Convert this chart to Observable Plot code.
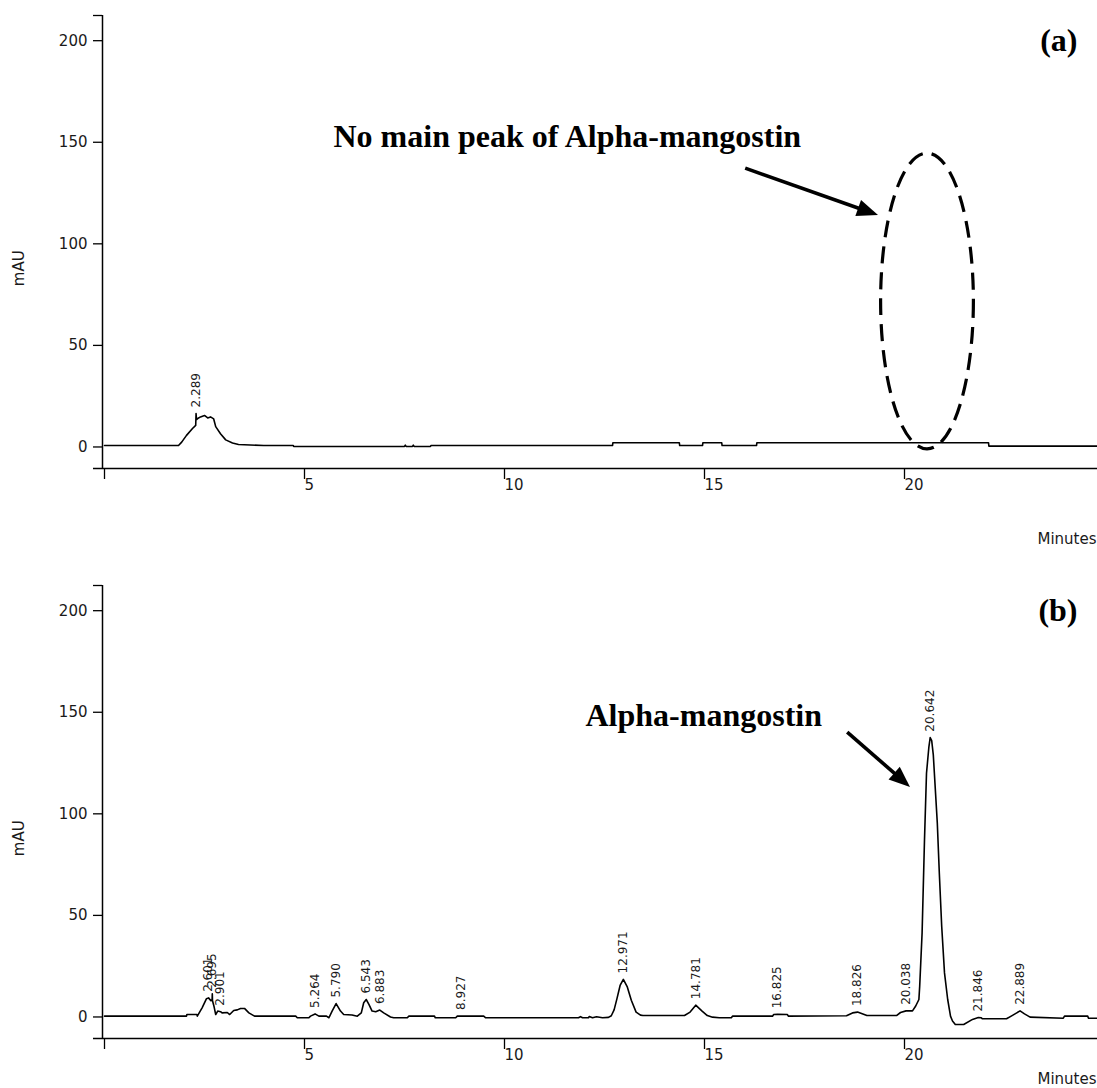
<!DOCTYPE html>
<html>
<head>
<meta charset="utf-8">
<script src="https://cdn.jsdelivr.net/npm/d3@7"></script>
<script src="https://cdn.jsdelivr.net/npm/@observablehq/plot@0.6"></script>
<style>
  body { margin: 0; background: #fff; }
  #chart svg { display: block; }
</style>
</head>
<body>
<div id="chart"></div>
<script>
// HPLC chromatograms: retention time (minutes) vs absorbance (mAU)

// (a) sample without the alpha-mangostin peak
const timeA = [0, 1.85, 1.93, 2.05, 2.20, 2.28, 2.289, 2.30, 2.33, 2.40,
  2.50, 2.58, 2.65, 2.73, 2.78, 2.90, 3.03, 3.20, 3.35, 3.98,
  4.72, 4.73, 7.50, 7.52, 7.54, 7.70, 7.72, 7.74, 8.15, 8.16,
  12.70, 12.71, 14.37, 14.38, 14.95, 14.96, 15.43, 15.44, 16.30, 16.31,
  22.10, 22.11, 24.825];
const mauA = [0.7, 0.7, 2.4, 5.7, 9.1, 10.6, 16.5, 13.5, 14.0, 14.8,
  15.5, 14.3, 14.8, 13.8, 10.0, 6.5, 3.5, 2.0, 1.2, 0.7,
  0.7, 0.25, 0.25, 0.9, 0.25, 0.25, 0.9, 0.25, 0.25, 0.7,
  0.7, 2.1, 2.1, 0.7, 0.7, 2.1, 2.1, 0.7, 0.7, 2.1,
  2.1, 0.4, 0.4];
const peaksA = [2.289];

// (b) sample with the alpha-mangostin peak at 20.642 min
const timeB = [0, 2.05, 2.06, 2.31, 2.32, 2.44, 2.55, 2.601, 2.66, 2.69,
  2.695, 2.70, 2.74, 2.78, 2.83, 2.901, 2.94, 3.07, 3.13, 3.23,
  3.32, 3.40, 3.50, 3.61, 3.75, 4.78, 4.82, 5.11, 5.15, 5.264,
  5.36, 5.55, 5.61, 5.69, 5.790, 5.90, 5.98, 6.19, 6.32, 6.42,
  6.48, 6.543, 6.61, 6.69, 6.78, 6.883, 6.98, 7.15, 7.23, 7.57,
  7.61, 8.25, 8.27, 8.78, 8.82, 8.927, 9.48, 9.53, 11.85, 11.90,
  11.95, 12.10, 12.12, 12.20, 12.30, 12.45, 12.60, 12.67, 12.74, 12.81,
  12.89, 12.971, 13.07, 13.17, 13.29, 13.40, 13.46, 14.50, 14.64, 14.781,
  14.94, 15.07, 15.20, 15.37, 15.67, 15.70, 16.70, 16.73, 16.825, 17.07,
  17.10, 18.55, 18.70, 18.826, 19.06, 19.80, 19.90, 20.038, 20.20, 20.28,
  20.36, 20.38, 20.44, 20.50, 20.55, 20.61, 20.642, 20.68, 20.72, 20.82,
  20.87, 20.93, 21.00, 21.08, 21.15, 21.20, 21.27, 21.48, 21.70, 21.846,
  21.92, 21.95, 22.55, 22.70, 22.889, 23.00, 23.14, 23.97, 24.00, 24.58,
  24.60, 24.825];
const mauB = [0.4, 0.4, 1.2, 1.2, 0.4, 4.5, 9.0, 9.4, 8.0, 8.4,
  11.4, 8.0, 5.0, 1.2, 2.9, 2.6, 2.0, 2.2, 1.2, 3.2,
  3.5, 4.2, 4.2, 2.0, 0.4, 0.4, -0.4, -0.4, 0.4, 1.5,
  0.4, 0.4, -0.4, 2.9, 6.6, 2.9, 1.2, 1.0, 0.4, 2.0,
  7.0, 8.6, 6.2, 2.9, 2.6, 3.4, 2.0, 0.0, -0.4, -0.4,
  0.4, 0.4, -0.4, -0.4, 0.4, 0.5, 0.4, -0.4, -0.4, 0.2,
  -0.4, -0.4, 0.2, -0.4, 0.1, -0.4, -0.2, 0.6, 3.5, 8.9,
  15.5, 18.5, 14.8, 8.2, 2.4, 0.9, 0.7, 0.7, 2.4, 5.8,
  2.9, 0.7, -0.1, -0.4, -0.4, 0.4, 0.4, 1.2, 1.3, 1.2,
  0.4, 0.6, 2.0, 2.4, 0.7, 0.7, 2.2, 3.0, 3.0, 5.4,
  8.6, 15.2, 41.4, 87.3, 120, 133, 137.5, 136, 129, 95.5,
  71, 44.7, 21.7, 8.6, 0.4, -2.0, -3.7, -3.7, -1.2, -0.3,
  -0.4, -0.9, -0.9, 0.8, 3.0, 1.5, -0.1, -0.6, 0.4, 0.4,
  -0.6, -0.6];
const peaksB = [2.601, 2.695, 2.901, 5.264, 5.790, 6.543, 6.883, 8.927, 12.971, 14.781,
  16.825, 18.826, 20.038, 20.642, 21.846, 22.889];

// axis ticks and extents
const xTicks = [0, 5, 10, 15, 20];
const yTicks = [0, 50, 100, 150, 200];
const T_MAX = 24.825;
const Y_MIN = -10.6;
const Y_MAX = 212.4;

// annotations (data units)
const tagA = [{t: 24.325, v: 195, text: "(a)"}];
const tagB = [{t: 24.325, v: 195, text: "(b)"}];
const noteA = [{t: 5.725, v: 147.8, text: "No main peak of Alpha-mangostin"}];
const noteB = [{t: 12.025, v: 143.4, text: "Alpha-mangostin"}];
const arrowA = [{t1: 16.03, v1: 137, t2: 19.35, v2: 113.9}];
const arrowB = [{t1: 18.58, v1: 140, t2: 20.15, v2: 113}];
const ellipseA = {cx: 20.575, cy: 71.6, rx: 1.16, ry: 72.8};

const SERIF = "'Liberation Serif', 'Times New Roman', serif";
const SVGNS = "http://www.w3.org/2000/svg";

function valueAt(times, values, t) {
  const i = d3.bisectLeft(times, t);
  if (times[i] === t) return values[i];
  const t0 = times[i - 1], t1 = times[i];
  return values[i - 1] + (values[i] - values[i - 1]) * (t - t0) / (t1 - t0);
}

// dashed ellipse placed through the plot's scales
function ellipseMark({cx, cy, rx, ry}) {
  return (index, scales) => {
    const {x, y} = scales;
    const e = document.createElementNS(SVGNS, "ellipse");
    e.setAttribute("cx", x(cx));
    e.setAttribute("cy", y(cy));
    e.setAttribute("rx", Math.abs(x(cx + rx) - x(cx)));
    e.setAttribute("ry", Math.abs(y(cy + ry) - y(cy)));
    e.setAttribute("fill", "none");
    e.setAttribute("stroke", "#000");
    e.setAttribute("stroke-width", 3.2);
    e.setAttribute("stroke-dasharray", "17 9");
    return e;
  };
}

// straight arrow with a filled triangular head
function arrowMark(list, {headLength = 21, headWidth = 17, strokeWidth = 3.6} = {}) {
  return (index, scales) => {
    const {x, y} = scales;
    const g = document.createElementNS(SVGNS, "g");
    for (const a of list) {
      const x1 = x(a.t1), y1 = y(a.v1), x2 = x(a.t2), y2 = y(a.v2);
      const len = Math.hypot(x2 - x1, y2 - y1);
      const ux = (x2 - x1) / len, uy = (y2 - y1) / len;
      const bx = x2 - ux * headLength, by = y2 - uy * headLength;
      const line = document.createElementNS(SVGNS, "line");
      line.setAttribute("x1", x1); line.setAttribute("y1", y1);
      line.setAttribute("x2", bx + ux * 2); line.setAttribute("y2", by + uy * 2);
      line.setAttribute("stroke", "#000");
      line.setAttribute("stroke-width", strokeWidth);
      g.append(line);
      const hw = headWidth / 2;
      const head = document.createElementNS(SVGNS, "polygon");
      head.setAttribute("points", [
        [x2, y2],
        [bx - uy * hw, by + ux * hw],
        [bx + uy * hw, by - ux * hw]
      ].map(p => p.join(",")).join(" "));
      head.setAttribute("fill", "#000");
      g.append(head);
    }
    return g;
  };
}

function panel({times, values, peaks, tag, note, arrow, ellipse, height, marginBottom, minutesOffset}) {
  const trace = times.map((t, i) => ({t, v: values[i]}));
  const labels = peaks.map(p => ({t: p, v: valueAt(times, values, p), text: p.toFixed(3)}));
  const marks = [
    Plot.ruleY([Y_MIN], {insetLeft: -11, stroke: "#000", strokeWidth: 1.5}),
    Plot.ruleX([0], {dx: -2, stroke: "#000", strokeWidth: 1.5}),
    Plot.axisY([...yTicks, Y_MAX], {
      tickSize: 9, tickPadding: 6, dx: -2, label: null,
      tickFormat: d => (d === Y_MAX ? "" : d), stroke: "#000", strokeWidth: 1.3
    }),
    Plot.axisX(xTicks, {
      tickSize: 11, tickPadding: 0, textAnchor: "start", label: null,
      tickFormat: d => (d === 0 ? "" : d), stroke: "#000", strokeWidth: 1.3
    }),
    Plot.text(["mAU"], {frameAnchor: "left", y: () => 88, dx: -85, rotate: -90, textAnchor: "middle", lineAnchor: "middle", fontSize: 15}),
    Plot.text(["Minutes"], {frameAnchor: "bottom-right", dx: -1, dy: minutesOffset, textAnchor: "end", lineAnchor: "bottom", fontSize: 15}),
    Plot.line(trace, {x: "t", y: "v", stroke: "#000", strokeWidth: 1.6}),
    Plot.text(labels, {x: "t", y: "v", text: "text", rotate: -90, textAnchor: "start", lineAnchor: "middle", dy: -6, fontSize: 12, fill: "#1a1a1a"}),
    Plot.text(tag, {x: "t", y: "v", text: "text", textAnchor: "end", lineAnchor: "bottom", fontFamily: SERIF, fontWeight: "bold", fontSize: 32, fill: "#000"}),
    Plot.text(note, {x: "t", y: "v", text: "text", textAnchor: "start", lineAnchor: "bottom", fontFamily: SERIF, fontWeight: "bold", fontSize: 32, fill: "#000"}),
    arrowMark(arrow)
  ];
  if (ellipse) marks.push(ellipseMark(ellipse));
  return Plot.plot({
    width: 1097, height, marginLeft: 104, marginRight: 0, marginTop: 15, marginBottom,
    style: {fontFamily: "'DejaVu Sans', sans-serif", fontSize: "15px", color: "#1a1a1a", background: "#fff"},
    x: {domain: [0, T_MAX]},
    y: {domain: [Y_MIN, Y_MAX]},
    marks
  });
}

const chart = document.getElementById("chart");
chart.append(panel({times: timeA, values: mauA, peaks: peaksA, tag: tagA, note: noteA, arrow: arrowA, ellipse: ellipseA, height: 570, marginBottom: 102, minutesOffset: 75}));
chart.append(panel({times: timeB, values: mauB, peaks: peaksB, tag: tagB, note: noteB, arrow: arrowB, height: 518, marginBottom: 50, minutesOffset: 45}));
</script>
</body>
</html>
